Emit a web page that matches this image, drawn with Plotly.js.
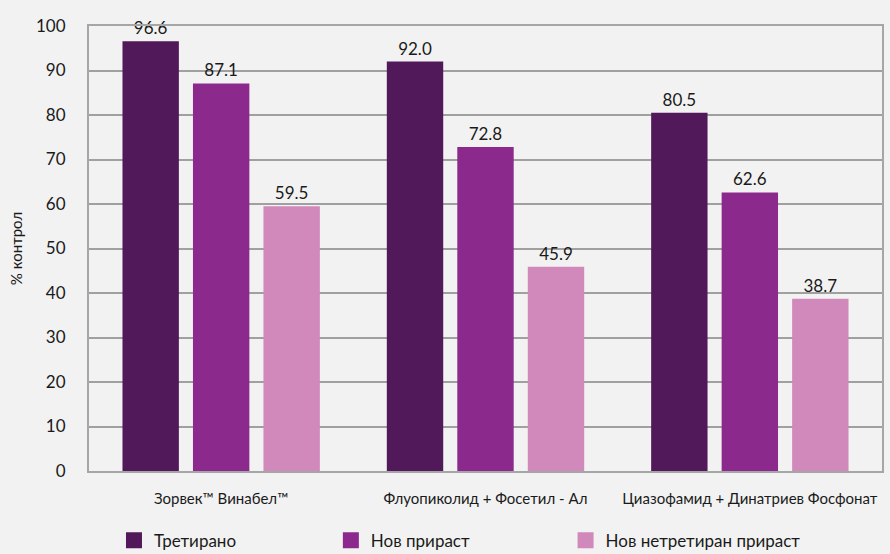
<!DOCTYPE html>
<html>
<head>
<meta charset="utf-8">
<script src="https://cdn.plot.ly/plotly-3.0.1.min.js"></script>
<style>html,body{margin:0;padding:0;background:#f2f2f2;}#chart{width:890px;height:554px;}</style>
</head>
<body>
<div id="chart"></div>
<script>
const categories = ["Зорвек™ Винабел™", "Флуопиколид + Фосетил - Ал", "Циазофамид + Динатриев Фосфонат"];
const seriesNames = ["Третирано", "Нов прираст", "Нов нетретиран прираст"];
const treated = [96.6, 92.0, 80.5];
const newGrowth = [87.1, 72.8, 62.6];
const newUntreatedGrowth = [59.5, 45.9, 38.7];
const yTicks = [0, 10, 20, 30, 40, 50, 60, 70, 80, 90, 100];
const colors = ["#52195A", "#8B2A8C", "#D188BA"];

const seriesValues = [treated, newGrowth, newUntreatedGrowth];
const FONT = "Lato, 'Open Sans', sans-serif";

const traces = [];
seriesValues.forEach((vals, i) => {
  traces.push({
    type: "bar",
    x: categories,
    y: vals,
    name: seriesNames[i],
    marker: {color: colors[i]},
    text: vals.map(v => v.toFixed(1)),
    textposition: "outside",
    textfont: {size: 17, color: "#1a1a1a", family: FONT},
    cliponaxis: false,
    showlegend: false,
    hoverinfo: "x+y"
  });
});
const legendIds = ["legend", "legend2", "legend3"];
seriesNames.forEach((n, i) => {
  traces.push({
    type: "scatter",
    mode: "markers",
    x: [null],
    y: [null],
    name: n,
    marker: {symbol: "square", size: 22, color: colors[i]},
    showlegend: true,
    legend: legendIds[i]
  });
});

const legendBase = {
  orientation: "h",
  yref: "container",
  yanchor: "middle",
  y: 0.024,
  xanchor: "left",
  bgcolor: "rgba(0,0,0,0)",
  font: {size: 17, color: "#1a1a1a", family: FONT}
};

const layout = {
  width: 890,
  height: 554,
  paper_bgcolor: "#f2f2f2",
  plot_bgcolor: "#f2f2f2",
  margin: {l: 89, r: 8, t: 26, b: 83},
  font: {family: FONT, color: "#1a1a1a"},
  bargap: 0.2,
  bargroupgap: 0.2,
  barmode: "group",
  xaxis: {
    type: "category",
    showline: true,
    linecolor: "#a6a6a6",
    linewidth: 2,
    mirror: true,
    showgrid: false,
    ticks: "",
    ticklabelstandoff: 13,
    tickfont: {size: 15, color: "#1a1a1a", family: FONT}
  },
  yaxis: {
    range: [0, 100],
    tickvals: yTicks,
    ticktext: yTicks.map(String),
    showline: true,
    linecolor: "#a6a6a6",
    linewidth: 2,
    mirror: true,
    showgrid: true,
    gridcolor: "#a0a0a0",
    gridwidth: 1.5,
    zeroline: false,
    ticks: "",
    ticklabelstandoff: 18,
    tickfont: {size: 17, color: "#1a1a1a", family: FONT},
    title: {text: "% контрол", font: {size: 15, color: "#1a1a1a", family: FONT}, standoff: 10}
  },
  legend: Object.assign({}, legendBase, {x: 0.0315}),
  legend2: Object.assign({}, legendBase, {x: 0.305}),
  legend3: Object.assign({}, legendBase, {x: 0.601})
};

Plotly.newPlot("chart", traces, layout, {displayModeBar: false, responsive: false});
</script>
</body>
</html>
